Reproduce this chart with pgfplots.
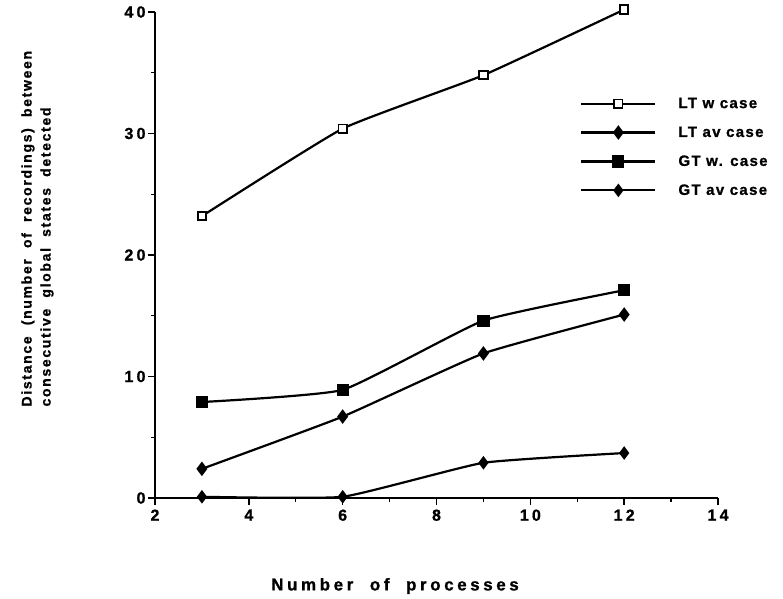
\documentclass[border=0pt]{standalone}
\usepackage{fontspec}
\setmainfont{Liberation Sans}
\usepackage{pgfplots}
\pgfplotsset{compat=1.18}
\begin{document}
\begin{tikzpicture}
\useasboundingbox (-155pt,-100pt) rectangle (628pt,498pt);
\begin{axis}[
  at={(0pt,0pt)}, anchor=south west,
  scale only axis, width=563pt, height=486pt,
  xmin=2, xmax=14, ymin=0, ymax=40,
  axis x line=bottom, axis y line=left,
  axis line style={-, line width=1.6pt},
  xtick={2,4,...,14}, ytick={0,10,...,40},
  minor x tick num=1, minor y tick num=1,
  tick align=outside, major tick length=7pt, minor tick length=3.5pt,
  tick style={line width=1.4pt, black},
  ticklabel style={font=\fontsize{16}{18}\selectfont\bfseries\addfontfeatures{LetterSpace=20,FakeBold=1}},
  xticklabel style={yshift=-1pt},
  yticklabel style={xshift=1pt},
  /pgf/number format/assume math mode=true,
  clip=false,
  every axis plot/.append style={line width=2.2pt, black, smooth, tension=0.25},
  legend style={at={(0.755,0.828)}, anchor=north west, draw=none, fill=none,
    font=\fontsize{15}{17}\selectfont\bfseries\addfontfeatures{LetterSpace=9,FakeBold=1}, row sep=13pt, inner sep=0pt,
    /tikz/every odd column/.append style={column sep=20pt}},
  legend cell align=left,
  legend image code/.code={\draw[mark repeat=2,mark phase=2,#1] plot coordinates {(0pt,0pt) (37pt,0pt) (74pt,0pt)};},
]
\addplot[mark=square*, mark options={fill=white, line width=1.8pt}, mark size=4.2pt]
  coordinates {(3,23.2) (6,30.4) (9,34.8) (12,40.2)};
\addlegendentry{LT w case}
\addplot[mark=diamond*, mark size=5.5pt]
  coordinates {(3,2.4) (6,6.7) (9,11.9) (12,15.1)};
\addlegendentry{LT av case}
\addplot[mark=square*, mark size=5pt]
  coordinates {(3,7.9) (6,8.9) (9,14.6) (12,17.1)};
\addlegendentry{GT w. case}
\addplot[mark=diamond*, mark size=5pt]
  coordinates {(3,0.1) (6,0.1) (9,2.9) (12,3.7)};
\addlegendentry{GT av case}
\end{axis}
\node[rotate=90, anchor=west, font=\fontsize{14}{16}\selectfont\bfseries\addfontfeatures{LetterSpace=12,FakeBold=1}] at (-127pt,88pt) {Distance \ (number \ of \ recordings) \ between};
\node[rotate=90, anchor=west, font=\fontsize{14}{16}\selectfont\bfseries\addfontfeatures{LetterSpace=12,FakeBold=1}] at (-108pt,88pt) {consecutive \ global \ states \ detected};
\node[font=\fontsize{17}{19}\selectfont\bfseries\addfontfeatures{LetterSpace=21,FakeBold=1}] at (240pt,-88pt) {Number \ of \ processes};
\end{tikzpicture}
\end{document}
